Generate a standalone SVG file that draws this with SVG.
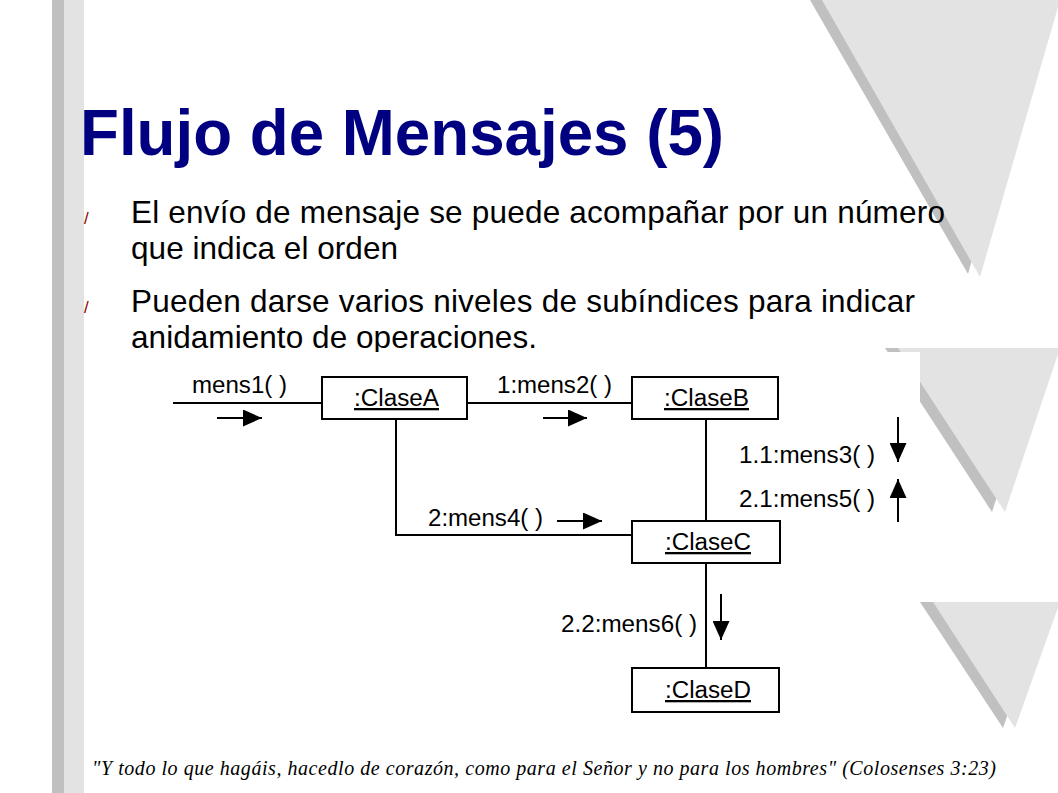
<svg xmlns="http://www.w3.org/2000/svg" width="1058" height="793" viewBox="0 0 1058 793">
<defs>
<style>
.bg{fill:#ffffff}
.bar-d{fill:#c0c0c0}
.bar-l{fill:#e3e3e3}
.tri-s{fill:#c0c0c0}
.tri-l{fill:#e3e3e3}
.title{font-family:"Liberation Sans",Arial,sans-serif;font-weight:bold;font-size:64px;fill:#000080}
.body{font-family:"Liberation Sans",Arial,sans-serif;font-size:31.5px;fill:#000000}
.bullet{font-family:"Liberation Sans",Arial,sans-serif;font-size:17px;fill:#8b0000}
.foot{font-family:"Liberation Serif","Times New Roman",serif;font-style:italic;font-size:20px;fill:#000000}
.box{fill:#ffffff;stroke:#000000;stroke-width:2}
.lbl{font-family:"Liberation Sans",Arial,sans-serif;font-size:23px;fill:#000000}
.name{font-family:"Liberation Sans",Arial,sans-serif;font-size:23px;fill:#000000;text-decoration:underline}
.conn{fill:none;stroke:#000000;stroke-width:2}
.msg{fill:none;stroke:#000000;stroke-width:2;marker-end:url(#ah)}
</style>
<marker id="ah" markerUnits="userSpaceOnUse" markerWidth="19" markerHeight="17" refX="19" refY="8.5" orient="auto">
<path d="M0,0 L19,8.5 L0,17 Z" fill="#000000"/>
</marker>
</defs>

<rect class="bg" x="0" y="0" width="1058" height="793"/>

<g id="background">
<rect class="bar-d" x="52" y="0" width="12" height="793"/>
<rect class="bar-l" x="64" y="0" width="20" height="793"/>
<polygon class="tri-s" points="810,0 1046,0 968,274"/>
<polygon class="tri-l" points="822,0 1060,0 980,277"/>
<polygon class="tri-s" points="885,348 1045,348 992,512"/>
<polygon class="tri-l" points="898,348 1060,348 1005,512"/>
<polygon class="tri-s" points="920,602 1046,602 1003,728"/>
<polygon class="tri-l" points="933,602 1060,602 1015,728"/>
</g>

<g id="title">
<text class="title" x="80" y="155" textLength="644" lengthAdjust="spacingAndGlyphs">Flujo de Mensajes (5)</text>
</g>

<g id="bullets">
<text class="bullet" x="84" y="224">/</text>
<text class="body" x="131" y="223" textLength="814" lengthAdjust="spacing">El envío de mensaje se puede acompañar por un número</text>
<text class="body" x="131" y="259" textLength="267" lengthAdjust="spacing">que indica el orden</text>
<text class="bullet" x="84" y="313">/</text>
<text class="body" x="131" y="312" textLength="784" lengthAdjust="spacing">Pueden darse varios niveles de subíndices para indicar</text>
<text class="body" x="131" y="348" textLength="406" lengthAdjust="spacing">anidamiento de operaciones.</text>
</g>

<rect class="bg" x="160" y="352" width="760" height="368"/>

<g id="connectors">
<line class="conn" x1="173" y1="403" x2="322" y2="403"/>
<line class="conn" x1="467" y1="403" x2="632" y2="403"/>
<line class="conn" x1="706" y1="419" x2="706" y2="521"/>
<polyline class="conn" points="396,419 396,535 632,535"/>
<line class="conn" x1="706" y1="563" x2="706" y2="668"/>
<line class="msg" x1="217" y1="418" x2="262" y2="418"/>
<line class="msg" x1="543" y1="418" x2="587" y2="418"/>
<line class="msg" x1="557" y1="521" x2="602" y2="521"/>
<line class="msg" x1="898" y1="417" x2="898" y2="462"/>
<line class="msg" x1="898" y1="522" x2="898" y2="479"/>
<line class="msg" x1="721" y1="594" x2="721" y2="640"/>
<text class="lbl" x="192" y="393" textLength="95" lengthAdjust="spacingAndGlyphs">mens1( )</text>
<text class="lbl" x="497" y="393" textLength="115" lengthAdjust="spacingAndGlyphs">1:mens2( )</text>
<text class="lbl" x="739" y="463" textLength="136" lengthAdjust="spacingAndGlyphs">1.1:mens3( )</text>
<text class="lbl" x="739" y="507" textLength="136" lengthAdjust="spacingAndGlyphs">2.1:mens5( )</text>
<text class="lbl" x="428" y="526" textLength="115" lengthAdjust="spacingAndGlyphs">2:mens4( )</text>
<text class="lbl" x="561" y="632" textLength="136" lengthAdjust="spacingAndGlyphs">2.2:mens6( )</text>
</g>

<g id="ClaseA">
<rect class="box" x="322" y="377" width="145" height="42"/>
<text class="name" x="354" y="406" textLength="85" lengthAdjust="spacingAndGlyphs">:ClaseA</text>
</g>
<g id="ClaseB">
<rect class="box" x="632" y="377" width="146" height="42"/>
<text class="name" x="664" y="406" textLength="85" lengthAdjust="spacingAndGlyphs">:ClaseB</text>
</g>
<g id="ClaseC">
<rect class="box" x="632" y="521" width="148" height="42"/>
<text class="name" x="665" y="550" textLength="86" lengthAdjust="spacingAndGlyphs">:ClaseC</text>
</g>
<g id="ClaseD">
<rect class="box" x="632" y="668" width="147" height="44"/>
<text class="name" x="665" y="698" textLength="86" lengthAdjust="spacingAndGlyphs">:ClaseD</text>
</g>

<g id="footer">
<text class="foot" x="92" y="775" textLength="904" lengthAdjust="spacing">"Y todo lo que hagáis, hacedlo de corazón, como para el Señor y no para los hombres" (Colosenses 3:23)</text>
</g>
</svg>
